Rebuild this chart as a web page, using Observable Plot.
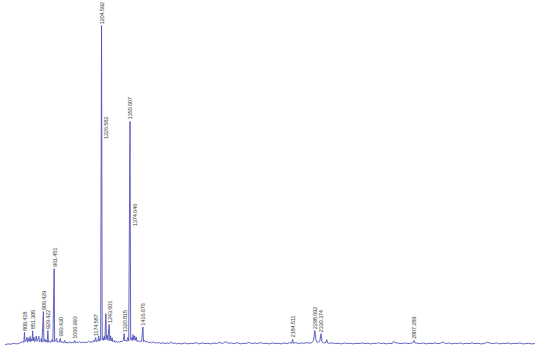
<!DOCTYPE html>
<html>
<head>
<meta charset="utf-8">
<script src="https://cdn.jsdelivr.net/npm/d3@7"></script>
<script src="https://cdn.jsdelivr.net/npm/@observablehq/plot@0.6"></script>
<style>
html,body{margin:0;padding:0;background:#fff;}
#chart svg{display:block;}
#chart text{letter-spacing:-0.35px;}
</style>
</head>
<body>
<div id="chart"></div>
<script>
// Peak labels (m/z) and the intensity where each label sits
const peakLabels = ["809.418","851.395","906.429","929.422","961.451","993.430","1066.993","1174.587","1204.592","1226.582","1243.601","1320.815","1350.607","1374.646","1416.676","2184.511","2298.692","2330.374","2807.289"];
const peakMz = [809.418,851.395,906.429,929.422,961.451,993.430,1066.993,1174.587,1204.592,1226.582,1243.601,1320.815,1350.607,1374.646,1416.676,2184.511,2298.692,2330.374,2807.289];
const labelAt = [4.5,5.1,11,5.1,24.5,2.8,2.1,2.9,100.3,64.5,7,4.1,70.6,37.3,6.2,2.5,5.1,4.1,2.0];

// Spectrum profile (m/z, relative intensity %)
const profileMz = [712,725,740,752,765,778,790,800,806,809.4,812,818,822,825,830,833,838,841,846,848,851.4,854,858,861,866,870,873,878,883,886,892,896,899,906.4,909,914,918,922,926,929.4,932,938,945,950,955,961.5,964,969,974,977,982,987,993.4,996,1002,1010,1016,1020,1028,1034,1040,1048,1055,1060,1067,1070,1078,1085,1092,1100,1108,1115,1122,1130,1138,1145,1152,1158,1164,1168,1174.6,1177,1182,1186,1190,1193,1197,1200,1204.6,1208,1212,1215,1219,1222,1226.6,1230,1234,1237,1243.6,1247,1251,1254,1259,1262,1268,1274,1280,1286,1292,1298,1304,1310,1316,1320.8,1324,1330,1335,1340,1344,1350.6,1354,1358,1362,1366,1370,1374.6,1378,1383,1386,1392,1398,1404,1410,1416.7,1420,1426,1432,1440,1448,1455,1462,1470,1478,1486,1494,1502,1510,1520,1530,1540,1550,1560,1570,1580,1590,1600,1615,1630,1645,1660,1675,1690,1705,1720,1735,1750,1765,1780,1795,1810,1825,1840,1855,1870,1885,1900,1915,1930,1945,1960,1975,1990,2005,2020,2035,2050,2065,2080,2095,2110,2125,2140,2155,2170,2180,2184.5,2188,2200,2215,2230,2245,2260,2275,2285,2292,2298.7,2304,2310,2318,2324,2330.4,2335,2342,2350,2356,2360,2364,2375,2390,2405,2420,2435,2450,2465,2480,2495,2510,2525,2540,2555,2570,2585,2600,2615,2625,2635,2650,2665,2680,2695,2702,2710,2730,2745,2760,2775,2790,2800,2807.3,2812,2825,2840,2855,2870,2885,2900,2915,2930,2943,2955,2970,2985,3000,3015,3030,3045,3060,3075,3090,3105,3120,3135,3150,3165,3174,3185,3200,3215,3230,3245,3260,3275,3290,3305,3320,3335,3350,3365,3380,3395,3410,3425,3440,3456];
const profileInt = [0.3,0.5,0.4,0.7,0.5,0.6,0.9,1.2,1.0,4.1,1.2,1.5,2.6,1.0,2.2,1.3,2.8,1.2,2.0,1.4,4.6,1.5,2.6,1.2,1.8,3.0,1.3,1.7,2.9,1.1,1.6,2.2,1.0,10.6,1.2,2.0,1.1,1.6,1.0,4.7,1.0,1.4,1.0,1.8,1.1,24,1.2,1.5,2.2,1.0,1.3,1.0,2.2,1.0,1.2,0.8,1.6,0.8,1.0,0.7,1.2,0.8,1.0,0.8,1.6,0.8,1.1,0.9,1.2,0.8,1.1,0.9,1.0,0.9,1.3,1.0,1.2,1.0,1.6,1.2,2.5,1.2,1.6,1.3,3.0,1.4,2.0,1.6,100,1.8,2.4,1.6,3.0,1.7,10,2.0,3.2,1.6,6.6,1.5,3.0,1.4,2.4,1.2,1.6,1.0,1.4,0.9,1.3,1.0,1.4,1.2,1.6,3.7,1.4,1.7,1.3,2.6,1.4,70,1.8,2.4,1.5,3.4,1.7,3.0,1.6,2.6,1.3,1.6,1.1,1.4,1.2,5.8,1.2,1.6,1.0,1.3,0.8,1.1,0.8,1.2,0.7,1.0,0.7,0.9,0.6,0.9,0.6,0.8,0.6,1.1,0.6,0.8,0.5,0.7,0.5,0.8,0.5,0.7,0.6,0.9,0.5,0.8,0.6,0.7,0.5,0.8,0.6,1.0,0.6,1.2,0.7,0.8,0.6,0.9,0.5,0.7,0.6,1.0,0.6,0.8,0.6,0.9,0.6,0.7,0.5,0.8,0.6,0.7,0.5,0.8,0.6,0.9,0.7,1.9,0.7,0.9,0.6,0.8,0.7,0.9,0.7,1.0,1.6,4.7,1.8,1.0,1.1,1.3,3.7,1.2,0.9,0.8,1.0,1.8,0.8,0.7,0.8,0.6,0.7,0.5,0.8,0.6,0.7,0.5,0.7,0.6,0.8,0.6,0.7,0.5,0.7,0.6,0.9,0.6,0.7,0.5,0.7,0.6,1.3,0.9,0.7,0.6,0.8,0.6,0.7,0.8,1.6,0.8,0.7,0.6,0.8,0.5,0.7,0.6,0.8,0.6,0.7,1.1,0.6,0.8,0.5,0.7,0.6,0.8,0.5,0.7,0.6,0.8,0.6,0.7,0.5,0.6,0.8,1.0,0.7,0.6,0.8,0.5,0.7,0.6,0.8,0.5,0.7,0.6,0.8,0.5,0.6,0.7,0.5,0.6];

const profile = profileMz.map((mz, i) => ({mz, v: profileInt[i]}));
const peaks = peakMz.map((mz, i) => ({mz, label: peakLabels[i], at: labelAt[i]}));

const chart = Plot.plot({
  width: 550,
  height: 351,
  marginLeft: 5,
  marginRight: 10,
  marginTop: 25,
  marginBottom: 6,
  x: {domain: [712, 3456], axis: null},
  y: {domain: [0, 100], axis: null},
  marks: [
    Plot.line(profile, {x: "mz", y: "v", stroke: "#5252bb", strokeWidth: 0.9}),
    Plot.text(peaks, {
      x: "mz", y: "at", text: "label",
      rotate: -90, textAnchor: "start", lineAnchor: "middle",
      dx: 0.5, fontSize: 6, fill: "#444",
      fontFamily: "'Liberation Sans', Arial, sans-serif"
    })
  ]
});
document.getElementById("chart").appendChild(chart);
</script>
</body>
</html>
